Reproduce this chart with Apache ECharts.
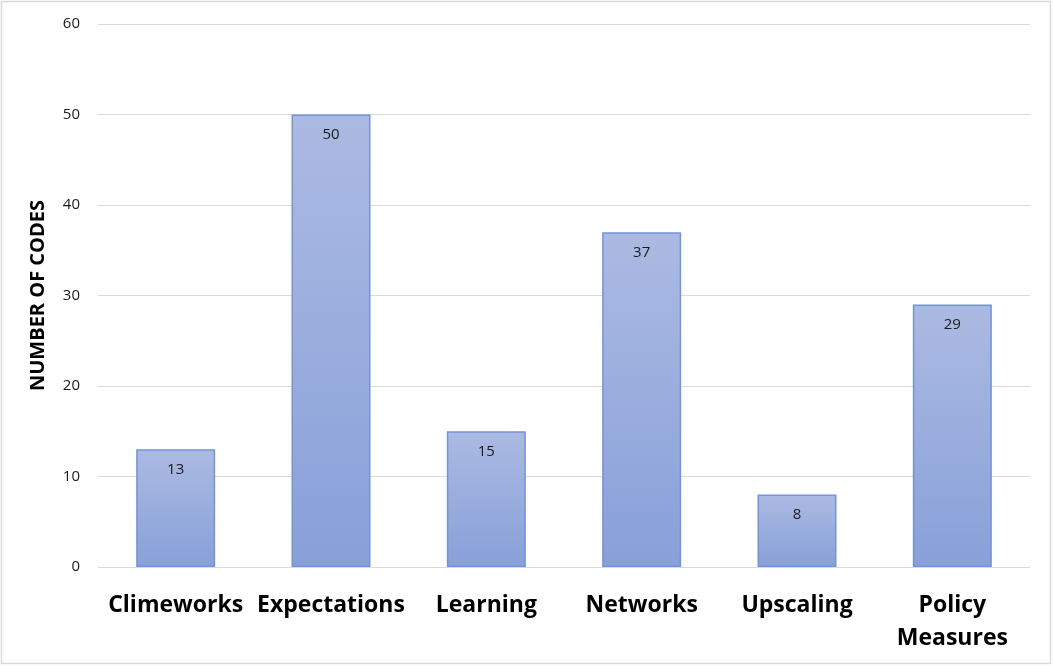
<!DOCTYPE html>
<html>
<head>
<meta charset="utf-8">
<script src="https://cdn.jsdelivr.net/npm/echarts@6/dist/echarts.min.js"></script>
<style>
  html, body { margin: 0; padding: 0; background: #fff; }
  #chart { width: 1053px; height: 666px; }
</style>
</head>
<body>
<div id="chart"></div>
<script>
// Coded themes and how often each was coded
const categories = ['Climeworks', 'Expectations', 'Learning', 'Networks', 'Upscaling', 'Policy\nMeasures'];
const codeCounts = [13, 50, 15, 37, 8, 29];
const yTicks = { min: 0, max: 60, interval: 10 };

const font = '"Open Sans", "Noto Sans", sans-serif';
const chart = echarts.init(document.getElementById('chart'), null, { renderer: 'canvas' });

chart.setOption({
  animation: false,
  backgroundColor: '#ffffff',
  graphic: [{
    type: 'rect',
    shape: { x: 1.5, y: 1.5, width: 1049, height: 662 },
    style: { fill: 'none', stroke: '#d9d9d9', lineWidth: 1.5 },
    silent: true
  }],
  grid: { left: 98, right: 23, top: 24, bottom: 99 },
  xAxis: {
    type: 'category',
    data: categories,
    axisLine: { show: true, lineStyle: { color: '#d9d9d9', width: 1 } },
    axisTick: { show: false },
    axisLabel: {
      color: '#000',
      fontFamily: font,
      fontWeight: 'bold',
      fontSize: 23,
      lineHeight: 33,
      margin: 22,
      interval: 0
    }
  },
  yAxis: {
    type: 'value',
    min: yTicks.min,
    max: yTicks.max,
    interval: yTicks.interval,
    name: 'NUMBER OF CODES',
    nameLocation: 'middle',
    nameGap: 50,
    nameRotate: 90,
    nameTextStyle: { color: '#000', fontFamily: font, fontWeight: 'bold', fontSize: 20 },
    axisLine: { show: false },
    axisTick: { show: false },
    axisLabel: { color: '#1a1a1a', fontFamily: font, fontSize: 15, margin: 18 },
    splitLine: { lineStyle: { color: '#d9d9d9', width: 1 } }
  },
  series: [{
    type: 'bar',
    data: codeCounts,
    barWidth: 79,
    itemStyle: {
      color: new echarts.graphic.LinearGradient(0, 0, 0, 1, [
        { offset: 0, color: '#abbae2' },
        { offset: 1, color: '#88a0d9' }
      ]),
      borderColor: '#7393da',
      borderWidth: 1.5
    },
    label: {
      show: true,
      position: 'insideTop',
      distance: 13,
      color: '#1a1a1a',
      fontFamily: font,
      fontSize: 15
    }
  }]
});
</script>
</body>
</html>
